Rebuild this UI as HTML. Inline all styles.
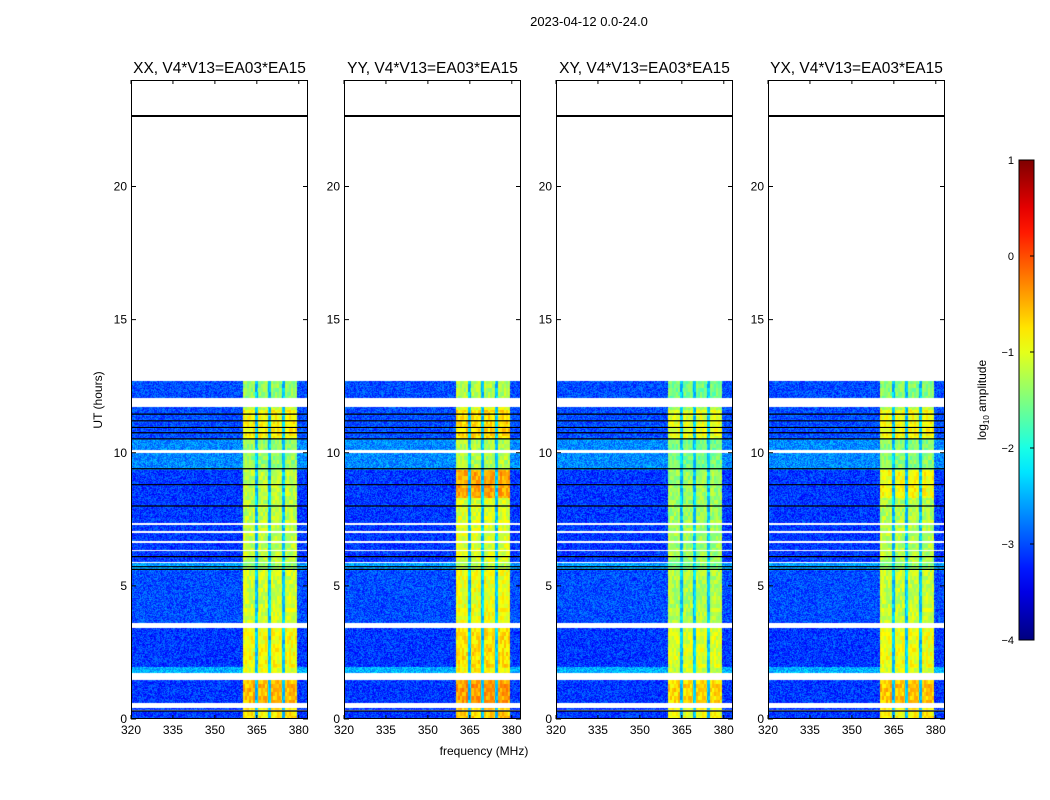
<!DOCTYPE html>
<html><head><meta charset="utf-8">
<style>
body{margin:0;background:#fff;font-family:"Liberation Sans",sans-serif;}
#wrap{position:relative;width:1050px;height:800px;overflow:hidden;}
.t{position:absolute;white-space:nowrap;color:#000;}
</style></head>
<body>
<div id="wrap">
<div class="t" style="left:489px;top:14px;width:200px;text-align:center;font-size:13px;">2023-04-12 0.0-24.0</div>
<svg id="svg" width="1050" height="800" style="position:absolute;left:0;top:0"></svg>
</div>
<script>
// ---- data ----
const panelTitles = ["XX, V4*V13=EA03*EA15","YY, V4*V13=EA03*EA15","XY, V4*V13=EA03*EA15","YX, V4*V13=EA03*EA15"];
const xTicks = [320,335,350,365,380];
const yTicks = [0,5,10,15,20];
const cbTicks = [1,0,-1,-2,-3,-4];
// time segments (hours): start, end, background log amp, in-band log amp
const segStart = [0.00,0.33,0.60,1.72,1.95,3.60,5.60,5.90,8.00,9.35,10.10,10.50,11.60,12.05];
const segEnd   = [0.30,0.42,1.45,1.95,3.40,5.60,5.90,8.00,9.35,10.00,10.50,11.60,11.70,12.70];
const segBg    = [-3.1,-3.1,-3.1,-2.5,-3.1,-3.0,-2.6,-3.1,-3.1,-2.7,-2.7,-3.0,-3.0,-3.0];
const segBand  = [-0.8,-0.8,-0.55,-1.0,-0.9,-1.1,-1.4,-1.2,-1.2,-1.4,-1.4,-0.85,-1.2,-1.4];
const panelBandOffset = [0.0, 0.15, -0.15, -0.05];
const panelHotStart = [9.4, 8.3, 9.4, 8.3];
const panelHotEnd   = [9.4, 9.35, 9.4, 9.35];
const panelHotBoost = [0, 0.6, 0, 0.35];
// flagged (white) rows and black lines (hours)
const whiteStart = [0.42,1.45,1.60,3.40,3.52,5.85,6.30,6.62,7.00,7.30,10.00,11.72,11.88,12.00];
const whiteEnd   = [0.60,1.52,1.68,3.47,3.60,5.90,6.36,6.68,7.06,7.36,10.10,11.78,11.95,12.05];
const blackLines = [0.30,5.62,5.72,6.10,8.00,8.80,9.40,10.52,10.75,10.95,11.20,11.45,22.65];
const bandLo = 360, bandHi = 379.5;
const chanGaps = [365.0, 369.6, 374.6];

// ---- layout ----
const panelLeft = [131,344,556,768];
const PW = 177, PT = 80, PB = 719;
const xMin = 320, xMax = 383.3, yMin = 0, yMax = 24;
function xs(i,v){return panelLeft[i] + (v-xMin)/(xMax-xMin)*PW;}
function ys(v){return PB - (v-yMin)/(yMax-yMin)*(PB-PT);}
function jet(v){
  let t=Math.max(0,Math.min(1,(v+4)/5));
  const r=Math.max(0,Math.min(1,Math.min(4*t-1.5,-4*t+4.5)));
  const g=Math.max(0,Math.min(1,Math.min(4*t-0.5,-4*t+3.5)));
  const b=Math.max(0,Math.min(1,Math.min(4*t+0.5,-4*t+2.5)));
  return [r*255|0,g*255|0,b*255|0];
}
function hash(a,b){let h=(a*374761393+b*668265263)|0;h=(h^(h>>>13))*1274126177|0;return ((h^(h>>>16))>>>0)/4294967296;}

const svg=document.getElementById('svg');
const NS="http://www.w3.org/2000/svg";
function mk(tag,attrs,parent){const e=document.createElementNS(NS,tag);for(const k in attrs)e.setAttribute(k,attrs[k]);(parent||svg).appendChild(e);return e;}

for(let p=0;p<4;p++){
  const g=mk('g',{});
  
  
  const cv=document.createElement('canvas');cv.width=PW;cv.height=PB-PT;
  const ctx=cv.getContext('2d');const img=ctx.createImageData(PW,PB-PT);
  for(let py=0;py<PB-PT;py++){
    const h=yMax-(py+0.5)/(PB-PT)*(yMax-yMin);
    let s=-1;for(let k=0;k<segStart.length;k++){if(h>=segStart[k]&&h<segEnd[k]){s=k;break;}}
    let white=false;for(let k=0;k<whiteStart.length;k++){if(h>=whiteStart[k]&&h<whiteEnd[k])white=true;}
    for(let px=0;px<PW;px++){
      const o=(py*PW+px)*4;
      if(s<0||white){img.data[o]=img.data[o+1]=img.data[o+2]=255;img.data[o+3]=255;continue;}
      const f=xMin+(px+0.5)/PW*(xMax-xMin);
      let v=segBg[s];
      if(f>=bandLo&&f<=bandHi){
        v=segBand[s]+panelBandOffset[p];
        if(h>=panelHotStart[p]&&h<panelHotEnd[p])v+=panelHotBoost[p];
        for(const c of chanGaps){if(Math.abs(f-c)<0.5)v=-2.4;}
        v+=(hash(px>>1,py>>2)-0.5)*0.5;
      } else v+=(hash(px+p*999,py)-0.5)*0.7;
      const c=jet(v);img.data[o]=c[0];img.data[o+1]=c[1];img.data[o+2]=c[2];img.data[o+3]=255;
    }
  }
  ctx.putImageData(img,0,0);
  const im=mk('image',{x:panelLeft[p],y:PT,width:PW,height:PB-PT,href:cv.toDataURL()},g);
  
  
  for(const bl of blackLines){
    const l=mk('line',{x1:panelLeft[p],x2:panelLeft[p]+PW,y1:ys(bl),y2:ys(bl),stroke:'#000','stroke-width':bl>20?2:1.2},g);
    
    
  }
  const fr=mk('rect',{x:panelLeft[p]+0.5,y:PT+0.5,width:PW-1,height:PB-PT-1,fill:'none',stroke:'#000','stroke-width':1},g);
  
  
  const tt=mk('text',{x:panelLeft[p]+PW/2,y:73,'text-anchor':'middle','font-size':15.5,'font-family':'Liberation Sans'},g);
  tt.textContent=panelTitles[p];
  
  
  for(const v of xTicks){
    const x=xs(p,v);
    mk('line',{x1:x,x2:x,y1:PB,y2:PB-4,stroke:'#000'},g);
    mk('line',{x1:x,x2:x,y1:PT,y2:PT+4,stroke:'#000'},g);
    const t=mk('text',{x:x,y:PB+15,'text-anchor':'middle','font-size':12,'font-family':'Liberation Sans'},g);
    t.textContent=v;
    
    
  }
  for(const v of yTicks){
    const y=ys(v);
    mk('line',{x1:panelLeft[p],x2:panelLeft[p]+5,y1:y,y2:y,stroke:'#000'},g);
    mk('line',{x1:panelLeft[p]+PW-5,x2:panelLeft[p]+PW,y1:y,y2:y,stroke:'#000'},g);
    const t=mk('text',{x:panelLeft[p]-4,y:y+4,'text-anchor':'end','font-size':12,'font-family':'Liberation Sans'},g);
    t.textContent=v;
    
    
  }
}
const yt=mk('text',{x:0,y:0,transform:'translate(102,400) rotate(-90)','text-anchor':'middle','font-size':12,'font-family':'Liberation Sans'});
yt.textContent='UT (hours)';


const xt=mk('text',{x:484,y:755,'text-anchor':'middle','font-size':12,'font-family':'Liberation Sans'});
xt.textContent='frequency (MHz)';


const cbX=1019,cbW=15,cbT=160,cbB=640;
const defs=mk('defs',{});
const gr=mk('linearGradient',{id:'jetg',x1:0,y1:1,x2:0,y2:0},defs);
for(let i=0;i<=20;i++){const c=jet(-4+5*i/20);mk('stop',{offset:i/20,'stop-color':`rgb(${c[0]},${c[1]},${c[2]})`},gr);}
const cb=mk('rect',{x:cbX,y:cbT,width:cbW,height:cbB-cbT,fill:'url(#jetg)',stroke:'#000','stroke-width':1});


for(const v of cbTicks){
  const y=cbB-(v+4)/5*(cbB-cbT);
  mk('line',{x1:cbX+cbW-4,x2:cbX+cbW,y1:y,y2:y,stroke:'#000'});
  const t=mk('text',{x:cbX-5,y:y+4,'text-anchor':'end','font-size':11,'font-family':'Liberation Sans'});
  t.textContent=(v<0?'\u2212':'')+Math.abs(v);
  
  
}
const cl=mk('text',{x:0,y:0,transform:'translate(986,400) rotate(-90)','text-anchor':'middle','font-size':12,'font-family':'Liberation Sans'});
cl.innerHTML='log<tspan font-size="8" dy="3">10</tspan><tspan dy="-3"> amplitude</tspan>';


</script>
</body></html>
